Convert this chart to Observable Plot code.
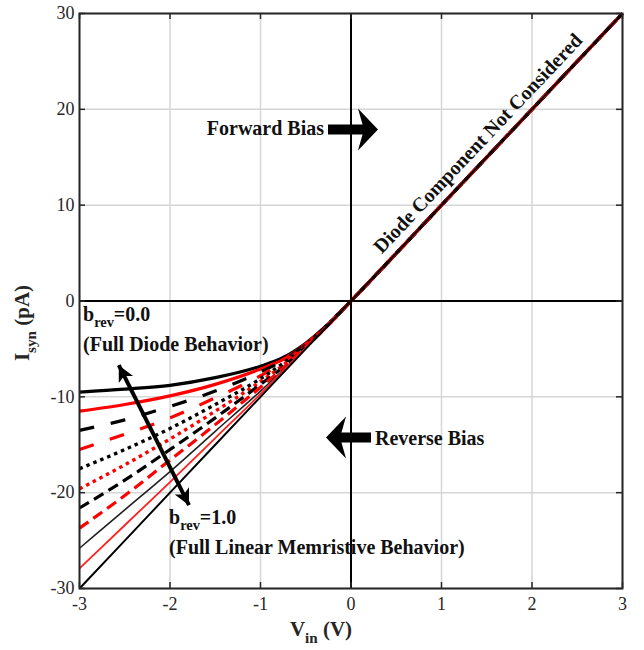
<!DOCTYPE html>
<html><head><meta charset="utf-8">
<script src="https://cdn.jsdelivr.net/npm/d3@7"></script>
<script src="https://cdn.jsdelivr.net/npm/@observablehq/plot@0.6"></script>
<style>body{margin:0;background:#fff}</style>
</head><body><div id="chart"></div>
<script>
// ---- data ----
const vin = [-3, -2.5, -2, -1.5, -1, -0.75, -0.5, -0.25, 0, 1, 2, 3];
const isyn00 = [-9.5, -9.2, -8.8, -8.0, -6.8, -5.9, -4.4, -2.4, 0, 10, 20, 30];
const isyn01 = [-11.5, -10.8, -9.9, -8.7, -7.1, -6.1, -4.5, -2.4, 0, 10, 20, 30];
const isyn02 = [-13.5, -12.4, -11.0, -9.4, -7.4, -6.2, -4.5, -2.4, 0, 10, 20, 30];
const isyn03 = [-15.5, -13.9, -12.2, -10.1, -7.8, -6.4, -4.6, -2.4, 0, 10, 20, 30];
const isyn04 = [-17.5, -15.5, -13.3, -10.8, -8.1, -6.5, -4.6, -2.4, 0, 10, 20, 30];
const isyn05 = [-19.6, -17.1, -14.4, -11.5, -8.4, -6.7, -4.7, -2.5, 0, 10, 20, 30];
const isyn06 = [-21.6, -18.7, -15.5, -12.2, -8.7, -6.9, -4.8, -2.5, 0, 10, 20, 30];
const isyn07 = [-23.7, -20.3, -16.6, -12.9, -9.0, -7.0, -4.8, -2.5, 0, 10, 20, 30];
const isyn08 = [-25.8, -21.8, -17.8, -13.6, -9.4, -7.2, -4.9, -2.5, 0, 10, 20, 30];
const isyn09 = [-27.9, -23.4, -18.9, -14.3, -9.7, -7.3, -4.9, -2.5, 0, 10, 20, 30];
const isyn10 = [-30, -25, -20, -15, -10, -7.5, -5, -2.5, 0, 10, 20, 30];
const brevValues = ["0.0","0.1","0.2","0.3","0.4","0.5","0.6","0.7","0.8","0.9","1.0"];
const seriesValues = [isyn00, isyn01, isyn02, isyn03, isyn04, isyn05, isyn06, isyn07, isyn08, isyn09, isyn10];

const xTicks = [-3, -2, -1, 0, 1, 2, 3];
const xTickLabels = ["-3", "-2", "-1", "0", "1", "2", "3"];
const yTicks = [-30, -20, -10, 0, 10, 20, 30];
const yTickLabels = ["-30", "-20", "-10", "0", "10", "20", "30"];

// annotations (data units)
const labelTexts = ["b_{rev}=0.0", "(Full Diode Behavior)", "b_{rev}=1.0", "(Full Linear Memristive Behavior)"];
const labelX = [-2.961, -2.961, -2.011, -2.011];
const labelY = [-1.37, -4.6, -22.56, -25.69];
const forwardText = "Forward Bias", forwardX = -0.298, forwardY = 17.94;
const reverseText = "Reverse Bias", reverseX = 0.265, reverseY = -14.31;
const diodeNote = "Diode Component Not Considered";
const diodeNoteX = 1.403, diodeNoteY = 16.44;
// block arrows: shaft start/end and tip
const blockShaftX1 = [-0.254, 0.221], blockShaftX2 = [0.19, -0.17], blockTipX = [0.298, -0.276], blockY = [17.9, -14.25];
const blockRotate = [0, 180];
// double arrow ends
const dblX = [-2.566, -1.79], dblY = [-6.7, -21.3], dblRotate = [243.4, 63.4];

// ---- styles ----
const seriesStyles = [
  {stroke: "#000", w: 3.2, dash: null},
  {stroke: "#ff0000", w: 3.2, dash: null},
  {stroke: "#000", w: 3.2, dash: "15,17"},
  {stroke: "#ff0000", w: 3.2, dash: "15,17"},
  {stroke: "#000", w: 3.4, dash: "3.5,4"},
  {stroke: "#ff0000", w: 3.4, dash: "3.5,4"},
  {stroke: "#000", w: 3.2, dash: "11,6"},
  {stroke: "#ff0000", w: 3.2, dash: "11,6"},
  {stroke: "#222", w: 1.6, dash: null},
  {stroke: "#ff2020", w: 1.8, dash: null},
  {stroke: "#000", w: 2, dash: null}
];

const W = 644, H = 650, mL = 79, mR = 22, mT = 13, mB = 62;
const fw = W - mL - mR, fh = H - mT - mB, tl = 6;
const serif = "Liberation Serif, Times New Roman, serif";

// arrowhead symbols (tip at origin, pointing +x)
const blockHead = {draw(ctx, size) {
  const r = Math.sqrt(size / Math.PI);
  ctx.moveTo(0, 0); ctx.lineTo(-2 * r, -2.1 * r); ctx.lineTo(-1.4 * r, 0); ctx.lineTo(-2 * r, 2.1 * r); ctx.closePath();
}};
const thinHead = {draw(ctx, size) {
  const r = Math.sqrt(size / Math.PI);
  ctx.moveTo(0, 0); ctx.lineTo(-2 * r, -1.0 * r); ctx.lineTo(-1.5 * r, 0); ctx.lineTo(-2 * r, 1.0 * r); ctx.closePath();
}};

const seriesMarks = seriesValues.map((vals, k) => {
  const rows = vals.map((v, i) => ({vin: vin[i], isyn: v, brev: brevValues[k]}));
  const st = seriesStyles[k];
  return Plot.line(rows, {x: "vin", y: "isyn", stroke: st.stroke, strokeWidth: st.w,
    strokeDasharray: st.dash ?? undefined, curve: "monotone-x", strokeLinecap: "butt"});
});

const labels = labelTexts.map((t, i) => ({t, x: labelX[i], y: labelY[i]}));
const blocks = blockTipX.map((t, i) => ({x1: blockShaftX1[i], x2: blockShaftX2[i], tip: t, y: blockY[i], r: blockRotate[i]}));
const dbl = dblX.map((x, i) => ({x, y: dblY[i], r: dblRotate[i]}));

const chart = Plot.plot({
  width: W, height: H, marginLeft: mL, marginRight: mR, marginTop: mT, marginBottom: mB,
  style: {fontFamily: serif, background: "#fff", color: "#262626", overflow: "visible"},
  x: {domain: [-3, 3]},
  y: {domain: [-30, 30]},
  marks: [
    Plot.gridX(xTicks, {stroke: "#d6d6d6", strokeOpacity: 1, strokeWidth: 1.5}),
    Plot.gridY(yTicks, {stroke: "#d6d6d6", strokeOpacity: 1, strokeWidth: 1.5}),
    Plot.ruleX([0], {stroke: "#000", strokeWidth: 2}),
    Plot.ruleY([0], {stroke: "#000", strokeWidth: 2}),
    ...seriesMarks,
    Plot.frame({stroke: "#262626", strokeWidth: 2}),
    Plot.tickX(xTicks, {x: d => d, stroke: "#262626", strokeWidth: 1.5, insetTop: fh - tl}),
    Plot.tickX(xTicks, {x: d => d, stroke: "#262626", strokeWidth: 1.5, insetBottom: fh - tl}),
    Plot.tickY(yTicks, {y: d => d, stroke: "#262626", strokeWidth: 1.5, insetRight: fw - tl}),
    Plot.tickY(yTicks, {y: d => d, stroke: "#262626", strokeWidth: 1.5, insetLeft: fw - tl}),
    Plot.axisX(xTicks, {tickSize: 0, tickPadding: 9, fontSize: 18, label: null, tickFormat: (d, i) => xTickLabels[i], fill: "#262626"}),
    Plot.axisY(yTicks, {tickSize: 0, tickPadding: 5, fontSize: 18, label: null, tickFormat: (d, i) => yTickLabels[i], fill: "#262626"}),
    Plot.text(["V_{in} (V)"], {frameAnchor: "bottom", textAnchor: "middle", lineAnchor: "top", dy: 33, dx: -30, fontSize: 21, fontWeight: "bold", fill: "#262626"}),
    Plot.text(["I_{syn} (pA)"], {frameAnchor: "left", textAnchor: "middle", lineAnchor: "middle", rotate: -90, dx: -57, dy: 22, fontSize: 21, fontWeight: "bold", fill: "#262626"}),
    Plot.text(labels, {x: "x", y: "y", text: "t", textAnchor: "start", fontSize: 20, fontWeight: "bold", fill: "#111"}),
    Plot.text([forwardText], {x: () => forwardX, y: () => forwardY, textAnchor: "end", fontSize: 20, fontWeight: "bold", fill: "#111"}),
    Plot.text([reverseText], {x: () => reverseX, y: () => reverseY, textAnchor: "start", fontSize: 20, fontWeight: "bold", fill: "#111"}),
    Plot.text([diodeNote], {x: () => diodeNoteX, y: () => diodeNoteY, rotate: -46.6, textAnchor: "middle", fontSize: 20, fontWeight: "bold", fill: "#111"}),
    Plot.link(blocks, {x1: "x1", x2: "x2", y1: "y", y2: "y", stroke: "#000", strokeWidth: 10, strokeLinecap: "butt"}),
    Plot.dot(blocks, {x: "tip", y: "y", rotate: "r", symbol: blockHead, r: 10, fill: "#000", stroke: "none"}),
    Plot.link([{x1: dblX[0], y1: dblY[0], x2: dblX[1], y2: dblY[1]}], {x1: "x1", y1: "y1", x2: "x2", y2: "y2", stroke: "#000", strokeWidth: 4, strokeLinecap: "butt"}),
    Plot.dot(dbl, {x: "x", y: "y", rotate: "r", symbol: thinHead, r: 8, fill: "#000", stroke: "none"})
  ]
});

document.getElementById("chart").appendChild(chart);

// subscripts: turn "a_{b}c" into tspans
chart.querySelectorAll("text").forEach(t => {
  const s = t.textContent;
  if (!s.includes("_{")) return;
  const fs = parseFloat(getComputedStyle(t).fontSize) || 20;
  const shift = fs * 0.33;
  const parts = s.split(/(_\{[^}]*\})/);
  t.textContent = "";
  let pending = 0;
  parts.forEach(p => {
    if (!p) return;
    const ts = document.createElementNS("http://www.w3.org/2000/svg", "tspan");
    if (p.startsWith("_{")) {
      ts.textContent = p.slice(2, -1);
      ts.style.fontSize = (fs * 0.72) + "px";
      ts.setAttribute("dy", shift);
      pending = -shift;
    } else {
      ts.textContent = p;
      if (pending) ts.setAttribute("dy", pending);
      pending = 0;
    }
    t.appendChild(ts);
  });
});
</script>
</body></html>
